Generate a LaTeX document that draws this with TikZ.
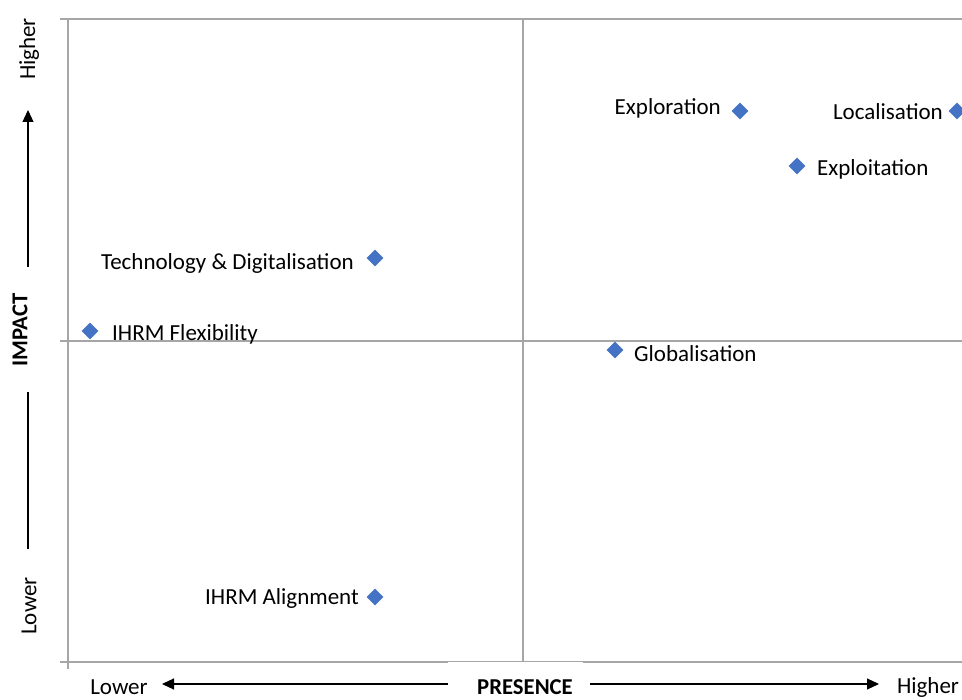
\documentclass[tikz,border=0pt]{standalone}
\usepackage{fontspec}
\setmainfont{Carlito}
\usetikzlibrary{arrows.meta,shapes.geometric}
\definecolor{gridgray}{HTML}{A6A6A6}
\definecolor{markblue}{HTML}{4472C4}
\tikzset{
  gridline/.style={draw=gridgray,line width=1.4pt},
  axisarrow/.style={draw=black,line width=1.1pt,-{Triangle[length=12pt,width=11pt]}},
  axisline/.style={draw=black,line width=1.1pt},
  marker/.style={diamond,fill=markblue,draw=none,inner sep=0pt,minimum width=17pt,minimum height=17pt},
  lbl/.style={inner sep=0pt,font=\fontsize{23}{27}\selectfont},
  axlbl/.style={inner sep=0pt,font=\fontsize{23}{27}\selectfont},
  axtitle/.style={inner sep=0pt,font=\fontsize{22.7}{27}\selectfont\bfseries},
}
\begin{document}
\begin{tikzpicture}[x=1pt,y=-1pt]
\useasboundingbox (0,0) rectangle (962,700);
% grid
\coordinate (tl) at (60,19); \coordinate (tr) at (962,19);
\coordinate (ml) at (60,341); \coordinate (mr) at (962,341);
\coordinate (bl) at (60,662); \coordinate (br) at (962,662);
\coordinate (lt) at (68,19); \coordinate (lb) at (68,669);
\coordinate (ct) at (523,19); \coordinate (cb) at (523,662);
\draw[gridline] (tl) -- (tr);
\draw[gridline] (ml) -- (mr);
\draw[gridline] (bl) -- (br);
\draw[gridline] (lt) -- (lb);
\draw[gridline] (ct) -- (cb);
\fill[white] (448,662.3) rectangle (583,700);
% vertical axis
\node[axlbl,rotate=90] (yhigh) at (29,49) {Higher};
\node[axtitle,rotate=90] (ytitle) at (20,330) {IMPACT};
\node[axlbl,rotate=90] (ylow) at (29,606) {Lower};
\coordinate (yup0) at (28,267); \coordinate (yup1) at (28,110);
\coordinate (ydn0) at (28,392); \coordinate (ydn1) at (28,549);
\draw[axisarrow] (yup0) -- (yup1);
\draw[axisline] (ydn0) -- (ydn1);
% horizontal axis
\node[axlbl] (xlow) at (119,687) {Lower};
\node[axtitle] (xtitle) at (525,687) {PRESENCE};
\node[axlbl] (xhigh) at (928,687) {Higher};
\coordinate (xl0) at (448,684); \coordinate (xl1) at (162,684);
\coordinate (xr0) at (590,684); \coordinate (xr1) at (879,684);
\draw[axisarrow] (xl0) -- (xl1);
\draw[axisarrow] (xr0) -- (xr1);
% data points
\node[marker] (m1) at (740,111) {};
\node[lbl,anchor=east] (l1) at (721,108) {Exploration};
\node[marker] (m2) at (957,111) {};
\node[lbl,anchor=east] (l2) at (943,112) {Localisation};
\node[marker] (m3) at (797,166) {};
\node[lbl,anchor=west] (l3) at (817,169) {Exploitation};
\node[marker] (m4) at (375,258) {};
\node[lbl,anchor=east] (l4) at (354,263) {Technology \& Digitalisation};
\node[marker] (m5) at (90,331) {};
\node[lbl,anchor=west] (l5) at (112,334) {IHRM Flexibility};
\node[marker] (m6) at (615,350) {};
\node[lbl,anchor=west] (l6) at (634,354) {Globalisation};
\node[marker] (m7) at (375,597) {};
\node[lbl,anchor=east] (l7) at (359,598) {IHRM Alignment};
\end{tikzpicture}
\end{document}
